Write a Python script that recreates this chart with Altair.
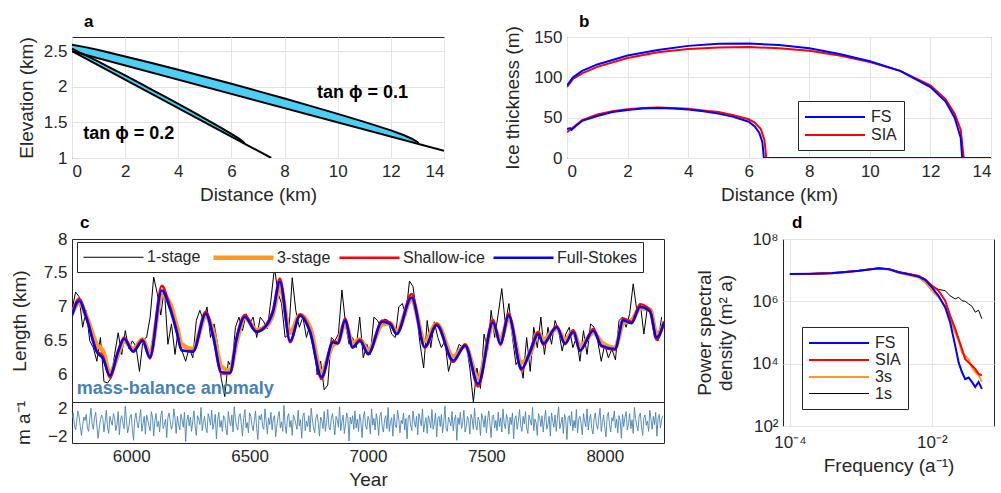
import altair as alt
import pandas as pd

FONT = "Liberation Sans"
INK = "#262626"
CYAN = "#4DCFF5"
ORANGE = "#FF9922"
GRID = "#e3e3e3"

# ---------------- panel a : glacier geometry ----------------
a_x01 = [0, 0.5, 1, 2, 3, 4, 5, 6, 7, 8, 9, 10, 11, 12, 12.5, 12.8, 13.0, 13.05]
a_bed01 = [2.5, 2.45, 2.4, 2.3, 2.2, 2.1, 2.0, 1.9, 1.8, 1.7, 1.6, 1.5, 1.4, 1.3, 1.25, 1.22, 1.2, 1.195]
a_surf01 = [2.59, 2.558, 2.516, 2.427, 2.334, 2.239, 2.142, 2.042, 1.94, 1.836, 1.729, 1.62, 1.508, 1.388, 1.32, 1.27, 1.225, 1.195]
a_x02 = [0, 0.3, 0.5, 1, 1.5, 2, 2.5, 3, 3.5, 4, 4.5, 5, 5.5, 6, 6.3, 6.45, 6.5]
a_bed02 = [2.5, 2.44, 2.4, 2.3, 2.2, 2.1, 2.0, 1.9, 1.8, 1.7, 1.6, 1.5, 1.4, 1.3, 1.24, 1.21, 1.2]
a_surf02 = [2.536, 2.48, 2.446, 2.353, 2.257, 2.16, 2.0615, 1.962, 1.8615, 1.76, 1.657, 1.554, 1.448, 1.34, 1.27, 1.225, 1.2]
a_bedline01_x = [0, 14]
a_bedline01_z = [2.5, 1.1]
a_bedline02_x = [0, 7.5]
a_bedline02_z = [2.5, 1.0]
a_labels = ["tan ϕ = 0.1", "tan ϕ = 0.2"]
a_label_x = [9.22, 0.42]
a_label_z = [1.91, 1.34]

# ---------------- panel b : ice thickness ----------------
b_x_fs_big = [0, 0.2, 0.5, 1, 2, 3, 4, 5, 6, 7, 8, 9, 10, 11, 12, 12.5, 12.8, 13.0, 13.05, 14]
b_h_fs_big = [90, 100, 108, 116, 127, 134, 139, 141.5, 142, 140, 136, 129, 120, 108, 88, 70, 50, 25, 0, 0]
b_x_sia_big = [0, 0.2, 0.5, 1, 2, 3, 4, 5, 6, 7, 8, 9, 10, 11, 12, 12.5, 12.8, 13.0, 13.1, 14]
b_h_sia_big = [88, 98, 105, 113, 124, 131, 135, 137, 137.5, 136, 133, 127, 119, 108, 90, 73, 55, 35, 0, 0]
b_x_fs_small = [0, 0.1, 0.15, 0.3, 0.5, 1, 1.5, 2, 2.5, 3, 3.5, 4, 4.5, 5, 5.5, 6, 6.2, 6.35, 6.45, 6.5, 14]
b_h_fs_small = [36, 37, 35, 40, 46, 52, 57, 59.5, 61.5, 62, 61.5, 60, 58, 55, 51, 45, 39, 31, 20, 0, 0]
b_x_sia_small = [0, 0.3, 0.5, 1, 1.5, 2, 2.5, 3, 3.5, 4, 4.5, 5, 5.5, 6, 6.2, 6.4, 6.52, 6.58, 14]
b_h_sia_small = [32, 41, 47, 54, 58, 60.5, 62, 62.5, 62, 61, 59, 57, 53, 48, 44, 36, 22, 0, 0]

# ---------------- panel c : length series ----------------
c_years_smooth = [5750, 5780, 5812, 5854, 5881, 5910, 5945, 5970, 6008, 6048,
                  6079, 6129, 6164, 6192, 6213, 6261, 6315, 6345, 6381, 6417,
                  6445, 6480, 6529, 6572, 6599, 6628, 6671, 6713, 6755, 6804,
                  6852, 6873, 6903, 6935, 6966, 7001, 7060, 7093, 7121, 7184,
                  7240, 7290, 7360, 7410, 7465, 7528, 7559, 7594, 7648, 7684,
                  7719, 7740, 7797, 7832, 7867, 7895, 7952, 7986, 8043, 8078,
                  8113, 8149, 8191, 8219, 8250]
c_full_stokes = [6.87, 7.09, 6.82, 6.34, 6.24, 5.99, 6.34, 6.53, 6.34, 6.50,
                 6.26, 7.24, 6.97, 6.63, 6.36, 6.34, 6.90, 6.58, 6.04, 6.03,
                 6.53, 6.85, 6.63, 6.73, 6.93, 7.37, 6.50, 6.87, 6.63, 5.97,
                 6.48, 6.46, 6.80, 6.41, 6.50, 6.31, 6.78, 6.75, 6.60, 7.14,
                 6.41, 6.73, 6.21, 6.43, 5.87, 6.77, 6.46, 6.87, 6.09, 6.33,
                 6.60, 6.46, 6.70, 6.46, 6.63, 6.36, 6.65, 6.43, 6.38, 6.80,
                 6.76, 7.00, 6.93, 6.55, 6.77]
c_shallow_ice = [6.90, 7.12, 6.84, 6.36, 6.27, 5.96, 6.36, 6.55, 6.35, 6.52,
                 6.24, 7.31, 7.00, 6.66, 6.36, 6.35, 6.93, 6.60, 6.02, 6.02,
                 6.55, 6.88, 6.64, 6.75, 6.95, 7.42, 6.48, 6.89, 6.65, 5.94,
                 6.50, 6.47, 6.83, 6.40, 6.52, 6.30, 6.80, 6.77, 6.60, 7.19,
                 6.40, 6.75, 6.19, 6.45, 5.83, 6.81, 6.44, 6.90, 6.07, 6.35,
                 6.63, 6.44, 6.72, 6.45, 6.66, 6.35, 6.68, 6.42, 6.37, 6.83,
                 6.78, 7.04, 6.95, 6.52, 6.79]
c_three_stage = [6.90, 7.06, 6.85, 6.45, 6.35, 6.03, 6.30, 6.50, 6.38, 6.52,
                 6.30, 7.18, 7.05, 6.72, 6.45, 6.38, 6.86, 6.65, 6.12, 6.06,
                 6.48, 6.84, 6.66, 6.72, 6.90, 7.30, 6.62, 6.88, 6.70, 6.05,
                 6.44, 6.48, 6.76, 6.47, 6.52, 6.36, 6.74, 6.76, 6.64, 7.10,
                 6.50, 6.75, 6.27, 6.42, 5.95, 6.72, 6.52, 6.83, 6.18, 6.30,
                 6.62, 6.52, 6.68, 6.52, 6.63, 6.42, 6.62, 6.48, 6.40, 6.76,
                 6.80, 6.98, 6.96, 6.60, 6.75]
c_one_stage = [6.95, 7.22, 7.15, 6.70, 6.95, 6.50, 6.40, 6.20, 6.55, 5.90,
               5.88, 5.95, 6.30, 6.62, 6.30, 6.65, 6.38, 6.50, 6.42, 6.05,
               6.52, 6.55, 6.85, 7.44, 7.20, 6.88, 7.27, 6.45, 6.75, 6.30,
               6.70, 6.35, 6.20, 6.40, 6.25, 6.80, 6.95, 6.80, 7.00, 6.55,
               6.75, 6.45, 5.95, 5.68, 6.20, 6.10, 6.70, 6.85, 6.65, 6.90,
               6.75, 6.85, 6.55, 6.85, 6.78, 6.68, 7.10, 7.58, 7.20, 7.05,
               6.55, 6.60, 7.43, 6.95, 6.70, 6.85, 6.55, 6.75, 6.60, 6.00,
               6.20, 5.78, 5.85, 6.55, 6.50, 6.60, 7.25, 6.75, 6.45, 6.55,
               6.40, 6.85, 6.25, 6.45, 6.30, 6.85, 6.80, 6.70, 6.82, 6.80,
               6.60, 6.55, 7.00, 7.05, 6.88, 7.38, 7.30, 6.90, 6.45, 6.10,
               6.80, 6.40, 6.78, 6.55, 6.40, 6.50, 6.05, 6.25, 6.30, 6.45,
               6.40, 6.45, 6.10, 5.60, 6.10, 5.80, 6.60, 6.35, 6.95, 6.55,
               6.90, 7.27, 6.75, 7.05, 6.55, 6.15, 6.25, 5.95, 6.55, 6.05,
               6.70, 6.40, 6.85, 6.30, 6.70, 6.45, 6.80, 6.65, 6.35, 6.60,
               6.70, 6.40, 6.55, 6.20, 6.65, 6.30, 6.75, 6.70, 6.50, 6.20,
               6.45, 6.25, 6.38, 6.22, 6.80, 6.85, 6.70, 6.90, 7.34, 6.95,
               7.05, 6.60, 7.00, 6.90, 6.55, 6.50, 6.85]
c_years_one = list(range(5750, 5750 + 15 * len(c_one_stage), 15))
c_models = ["1-stage", "3-stage", "Shallow-ice", "Full-Stokes"]

c_mass_balance = [
    0.6, 1.4, -0.3, -1.1, 0.2, 1.7, 0.9, -0.6, -1.9, -0.4, 0.8, 0.3, 1.2, -0.8, -1.3, 0.5, 2.1, -0.2, -1.0, 0.7,
    1.5, -0.5, -2.3, -0.9, 0.4, 1.1, 0.6, -1.4, 0.1, 1.8, -0.7, -1.6, 0.9, 0.2, -0.4, 1.3, 0.7, -1.2, -0.3, 1.6,
    -1.8, 0.4, 1.0, -0.1, -0.9, 2.4, 0.3, -1.5, -0.6, 0.8, 1.2, -1.1, -2.6, 0.5, 1.4, 0.0, -0.8, 0.6, 1.9, -1.3,
    -0.2, 0.9, -1.7, 1.1, 0.4, -0.5, -1.2, 1.6, 0.8, -2.0, 0.3, 1.3, -0.6, 0.2, -1.4, 1.0, 1.7, -0.9, -0.3, 0.5,
    -2.2, 0.7, 1.4, 0.1, -1.0, -0.4, 2.0, 0.6, -1.6, 0.9, -0.2, -1.1, 1.2, 0.4, -0.7, 1.5, -2.8, 0.3, 1.1, -0.5,
    0.8, -1.3, 0.2, 1.7, -0.6, -1.9, 1.0, 0.5, -0.3, 2.2, -1.2, 0.1, 0.9, -0.8, -1.5, 1.3, 0.6, -0.4, 1.8, -1.0,
    -0.1, 1.2, -2.4, 0.4, 1.5, -0.7, 0.3, -1.3, 1.0, 0.7, -0.9, -1.8, 1.6, 0.2, -0.5, 1.1, -1.4, 2.3, 0.5, -0.6,
    -1.1, 0.8, 1.3, -0.2, -2.0, 0.6, 1.9, -0.8, 0.0, -1.5, 1.4, 0.9, -0.4, -1.2, 0.3, 1.7, -0.9, -2.5, 1.0, 0.4,
    1.2, -0.6, -1.0, 2.0, 0.2, -1.7, 0.7, -0.3, 1.5, -1.1, 0.5, 1.0, -2.1, -0.5, 0.9, 1.6, -0.8, 0.1, -1.3, 2.5,
    -0.4, -1.6, 0.8, 1.3, -0.7, 0.3, -1.9, 1.1, 0.6, -0.2, -1.0, 1.8, -0.5, 0.4, -2.3, 0.9, 1.4, -1.2, 0.2, -0.6,
    1.0, -1.4, 2.1, 0.5, -0.8, -1.5, 0.7, 1.2, -0.1, -2.0, 0.8, 0.3, -0.9, 1.6, -1.3, 0.0, 1.9, -0.6, -1.1, 0.6,
    1.3, -0.3, -1.8, 0.9, 0.4, -0.7, 2.3, -1.2, 0.2, 1.1, -1.6, -0.4, 1.4, 0.6, -2.7, 0.8, -0.2, 1.0, -1.0, 1.7,
    -0.8, 0.5, -1.3, 1.2, 0.1, -2.2, 0.7, 1.6, -0.5, -1.0, 0.9, 0.3, -1.7, 2.0, -0.4, 0.6, -1.1, 1.3, 0.2, -1.9,
    0.9, 1.5, -0.6, -1.4, 0.4, 1.0, -0.9, 2.2, -1.3, 0.1, 0.7, -2.0, 1.2, -0.3, -0.8, 1.8, 0.5, -1.5, 0.3, -0.2,
    1.4, -1.1, 0.6, -2.4, 0.8, 1.1, -0.4, -1.2, 1.7, 0.2, -0.7, 0.9, -1.8, 1.3, 0.4, -0.5, 2.0, -1.4, -0.1, 0.7,
    -1.6, 1.0, 0.3, -0.8, 1.9, -1.0, -0.2, 1.4, -2.1, 0.6, 0.9, -0.6, 1.2, -1.5, 0.0, 2.4, -0.9, -1.3, 0.8, 0.2,
    -0.5, 1.6, -1.2, 0.4, 1.1, -2.6, 0.7, -0.3, 1.5, -0.9, 0.1, 1.8, -1.4, -0.6, 0.9, 0.3, -1.7, 1.2, 0.5, -1.0,
    2.1, -0.4, -1.1, 0.8, 0.2, -1.9, 1.3, 0.6, -0.7, 1.0, -1.5, 0.4, 1.7, -0.2, -2.2, 0.9, 1.1, -0.8, 0.3, -1.2,
    1.5, -0.6, 0.7, -1.4, 2.0, -0.1, -0.9, 1.2, 0.4, -1.7, 0.8, -0.3, 1.4, -2.4, 0.6, 1.0, -1.0, 0.2, 1.9, -0.5,
    -1.3, 0.9, -0.2, 1.6, -0.8, -1.6, 1.1, 0.3, -0.4, 2.2, -1.2, 0.5, 0.0, -1.9, 1.3, 0.7, -0.6, 1.0, -1.4, 0.4,
    1.8, -1.0, -0.3, 0.9, -2.0, 1.4, 0.2, -0.7, 1.1, -1.3, 0.6, 2.3, -0.9, -0.1, 0.8, -1.6, 1.2, 0.4, -2.5, 0.7,
    1.0, -0.5, 1.6, -1.2, 0.3, -0.8, 1.9, -1.5, 0.5, 0.9, -0.2, -1.8, 1.3, 0.1, -0.6, 2.0, -1.1, 0.4, 1.2, -0.9,
    -1.7, 0.6, 1.4, -0.4, -1.0, 0.8, 2.1, -1.3, 0.0, 1.1, -0.7, -2.1, 0.9, 1.5, -0.3, -1.4, 0.7, 0.2, 1.7, -0.8,
    0.5, -1.5, 1.0, 0.3, -2.3, 1.2, -0.6, 0.8, 1.6, -1.1, -0.2, 1.3, -0.9, 0.4, -1.6, 2.2, 0.6, -0.5, -1.2, 0.9,
    1.4, -0.7, -1.9, 0.7, 1.1, -0.4, 0.2, -1.3, 1.8, 0.5, -1.0, 0.9, -0.3, 1.5, -2.0, 0.6, 1.2, -0.8, 0.4, 1.0]
c_years_mb = list(range(5750, 5750 + 5 * len(c_mass_balance), 5))

# ---------------- panel d : power spectra ----------------
d_freq = [1e-4, 2e-4, 3.9e-4, 6e-4, 9.3e-4, 1.3e-3, 1.78e-3, 2.5e-3, 3.4e-3, 4.8e-3,
          6.5e-3, 8.1e-3, 0.0100, 0.0124, 0.0154, 0.0181, 0.0213, 0.0238, 0.0265, 0.0295,
          0.0329, 0.0366, 0.0408, 0.0455, 0.0506]
d_fs = [7.6e6, 7.7e6, 8.0e6, 8.7e6, 9.5e6, 1.05e7, 1.15e7, 1.07e7, 8.6e6, 7.3e6,
        6.2e6, 4.8e6, 2.8e6, 1.5e6, 6.5e5, 2.1e5, 3.8e4, 1.1e4, 5.4e3, 3.2e3,
        3.6e3, 2.6e3, 1.8e3, 2.6e3, 1.55e3]
d_sia = [7.6e6, 7.7e6, 8.1e6, 8.8e6, 9.6e6, 1.06e7, 1.16e7, 1.08e7, 8.7e6, 7.5e6,
         6.5e6, 5.0e6, 3.2e6, 2.2e6, 1.05e6, 3.5e5, 1.3e5, 6.2e4, 3.0e4, 1.4e4,
         1.1e4, 8.7e3, 6.8e3, 4.7e3, 4.2e3]
d_3s = [7.5e6, 7.6e6, 8.0e6, 8.6e6, 9.4e6, 1.04e7, 1.14e7, 1.05e7, 8.3e6, 6.9e6,
        5.8e6, 4.0e6, 2.2e6, 1.35e6, 6.5e5, 2.75e5, 9.8e4, 5.4e4, 2.3e4, 1.8e4,
        1.4e4, 7.6e3, 5.4e3, 4.2e3, 2.6e3]
d_1s = [7.5e6, 7.6e6, 8.0e6, 8.7e6, 9.5e6, 1.05e7, 1.15e7, 1.08e7, 8.8e6, 7.6e6,
        6.6e6, 5.2e6, 3.2e6, 2.4e6, 2.2e6, 1.5e6, 1.2e6, 1.35e6, 1.05e6, 1.0e6,
        8.3e5, 7.0e5, 4.5e5, 5.2e5, 2.75e5]
d_models = ["FS", "SIA", "3s", "1s"]

# panel letters (placed just above each plot, in that panel's data units)
letter_a = (0.45, 2.84)
letter_b = (0.4, 162.0)
letter_c = (5784, 8.16)
letter_d = (1.07e-4, 2.2e8)

# legend line symbol: 60 px long horizontal stroke, compact row height
LEG_SIZE = 256
LEG_PATH = "M-3.75,0H3.75"


def axis(**kw):
    base = dict(labelFont=FONT, titleFont=FONT, labelFontSize=17, titleFontSize=19,
                labelColor=INK, titleColor=INK, titleFontWeight="normal",
                domain=False, ticks=False, grid=False, gridColor=GRID,
                labelPadding=5, titlePadding=6)
    base.update(kw)
    return alt.Axis(**base)


def legend(**kw):
    base = dict(title=None, orient="none", symbolType=LEG_PATH, symbolSize=LEG_SIZE,
                symbolStrokeWidth=2, symbolOffset=21, labelOffset=27,
                labelFont=FONT, labelFontSize=16, labelColor=INK,
                fillColor="white", strokeColor=INK, padding=7, rowPadding=1)
    base.update(kw)
    return alt.Legend(**base)


def letter(ch, pos, xenc, yenc, xf, yf):
    df = pd.DataFrame({xf: [pos[0]], yf: [pos[1]], "t": [ch]})
    return alt.Chart(df).mark_text(align="left", baseline="alphabetic", font=FONT,
                                   fontSize=17, fontWeight="bold", color="black",
                                   clip=False).encode(x=xenc, y=yenc, text="t:N")


# ----- panel a -----
xa_scale = alt.Scale(domain=[0, 14], nice=False)
ya_scale = alt.Scale(domain=[1, 2.7], nice=False, zero=False)


def xa():
    return alt.X("x:Q", scale=xa_scale,
                 axis=axis(values=list(range(0, 15, 2)), grid=True, title="Distance (km)"))


def ya(field="z"):
    return alt.Y(f"{field}:Q", scale=ya_scale,
                 axis=axis(values=[1, 1.5, 2, 2.5], grid=True, format="~g",
                           title="Elevation (km)", titlePadding=7))


df_a01 = pd.DataFrame({"x": a_x01, "z": a_bed01, "z2": a_surf01})
df_a02 = pd.DataFrame({"x": a_x02, "z": a_bed02, "z2": a_surf02})
df_bed01 = pd.DataFrame({"x": a_bedline01_x, "z": a_bedline01_z})
df_bed02 = pd.DataFrame({"x": a_bedline02_x, "z": a_bedline02_z})
df_alab = pd.DataFrame({"x": a_label_x, "z": a_label_z, "t": a_labels})

pa = alt.layer(
    alt.Chart(df_a01).mark_area(color=CYAN, opacity=1).encode(x=xa(), y=ya(), y2="z2:Q"),
    alt.Chart(df_a02).mark_area(color=CYAN, opacity=1).encode(x=xa(), y=ya(), y2="z2:Q"),
    alt.Chart(df_a01).mark_line(color="black", strokeWidth=2).encode(x=xa(), y=ya("z2")),
    alt.Chart(df_a02).mark_line(color="black", strokeWidth=2).encode(x=xa(), y=ya("z2")),
    alt.Chart(df_bed01).mark_line(color="black", strokeWidth=2, clip=True).encode(x=xa(), y=ya()),
    alt.Chart(df_bed02).mark_line(color="black", strokeWidth=2, clip=True).encode(x=xa(), y=ya()),
    alt.Chart(df_alab).mark_text(align="left", baseline="middle", font=FONT,
                                 fontSize=18, fontWeight="bold", color="black")
    .encode(x=xa(), y=ya(), text="t:N"),
    letter("a", letter_a, xa(), ya(), "x", "z"),
).properties(width=372, height=121)

# ----- panel b -----
rows = []
for name, case, xs, hs in [("SIA", "big", b_x_sia_big, b_h_sia_big),
                           ("SIA", "small", b_x_sia_small, b_h_sia_small),
                           ("FS", "big", b_x_fs_big, b_h_fs_big),
                           ("FS", "small", b_x_fs_small, b_h_fs_small)]:
    for xv, hv in zip(xs, hs):
        rows.append({"x": xv, "H": hv, "model": name, "case": name + case})
df_b = pd.DataFrame(rows)

xb = alt.X("x:Q", scale=alt.Scale(domain=[0, 14], nice=False),
           axis=axis(values=list(range(0, 15, 2)), grid=True, title="Distance (km)"))
yb = alt.Y("H:Q", scale=alt.Scale(domain=[0, 150], nice=False),
           axis=axis(values=[0, 50, 100, 150], grid=True, title="Ice thickness (m)",
                     titlePadding=11))
pb = alt.layer(
    alt.Chart(df_b).mark_line(strokeWidth=2, clip=True).encode(
        x=xb, y=yb,
        color=alt.Color("model:N", scale=alt.Scale(domain=["FS", "SIA"], range=["#0000FF", "#FF0000"]),
                        legend=legend(legendX=231, legendY=64)),
        detail="case:N"),
    letter("b", letter_b, xb, yb, "x", "H"),
).properties(width=424, height=121)

# ----- panel c -----
xc_scale = alt.Scale(domain=[5750, 8250], nice=False)
yc_scale = alt.Scale(domain=[5.6, 8], nice=False, zero=False)
c_color = alt.Scale(domain=c_models, range=["black", ORANGE, "#FF0000", "#0000FF"])
c_width = alt.Scale(type="ordinal", domain=c_models, range=[1, 4.5, 2.5, 2.5])
c_leg = dict(legendX=5, legendY=3, direction="horizontal", columns=4, columnPadding=3,
             padding=5, labelOffset=23)

xc = alt.X("year:Q", scale=xc_scale, axis=None)
yc = alt.Y("L:Q", scale=yc_scale,
           axis=axis(values=[6, 6.5, 7, 7.5, 8], format="~g", title="Length (km)",
                     titlePadding=14))


def c_enc(ch):
    return ch.encode(
        x=xc, y=yc,
        color=alt.Color("model:N", scale=c_color, legend=legend(**c_leg)),
        strokeWidth=alt.StrokeWidth("model:N", scale=c_width, legend=legend(**c_leg)),
    )


df_c1 = pd.DataFrame({"year": c_years_one, "L": c_one_stage, "model": "1-stage"})
df_c3 = pd.DataFrame({"year": c_years_smooth, "L": c_three_stage, "model": "3-stage"})
df_cs = pd.DataFrame({"year": c_years_smooth, "L": c_shallow_ice, "model": "Shallow-ice"})
df_cf = pd.DataFrame({"year": c_years_smooth, "L": c_full_stokes, "model": "Full-Stokes"})
df_ctext = pd.DataFrame({"year": [5770], "L": [5.79], "t": ["mass-balance anomaly"]})

c_top = alt.layer(
    c_enc(alt.Chart(df_c1).mark_line(clip=True)),
    c_enc(alt.Chart(df_c3).mark_line(clip=True, interpolate="monotone")),
    c_enc(alt.Chart(df_cs).mark_line(clip=True, interpolate="monotone")),
    c_enc(alt.Chart(df_cf).mark_line(clip=True, interpolate="monotone")),
    alt.Chart(df_ctext).mark_text(align="left", baseline="middle", font=FONT, fontSize=18,
                                  fontWeight="bold", color="#4682B4")
    .encode(x=xc, y=yc, text="t:N"),
    letter("c", letter_c, xc, yc, "year", "L"),
).properties(width=592, height=163)

df_mb = pd.DataFrame({"year": c_years_mb, "mb": c_mass_balance})
c_bot = alt.Chart(df_mb).mark_line(color="#4682B4", strokeWidth=0.9, clip=True).encode(
    x=alt.X("year:Q", scale=xc_scale,
            axis=axis(values=[6000, 6500, 7000, 7500, 8000], format="d", title="Year")),
    y=alt.Y("mb:Q", scale=alt.Scale(domain=[-3, 3], nice=False),
            axis=axis(values=[-2, 0, 2], format="d", title="m a⁻¹", titlePadding=14)),
).properties(width=592, height=41)

# ----- panel d -----
rows = []
for name, vals in [("1s", d_1s), ("3s", d_3s), ("SIA", d_sia), ("FS", d_fs)]:
    for fv, pv in zip(d_freq, vals):
        rows.append({"f": fv, "P": pv, "model": name})
df_d = pd.DataFrame(rows)

d_leg = dict(legendX=19, legendY=88, rowPadding=0)
xd = alt.X("f:Q", scale=alt.Scale(type="log", domain=[8e-5, 0.075], nice=False),
           axis=axis(values=[1e-4, 1e-2], grid=True, title="Frequency (a⁻¹)",
                     labelExpr="datum.value < 0.001 ? '10⁻⁴' : '10⁻²'", labelPadding=8))
yd = alt.Y("P:Q", scale=alt.Scale(type="log", domain=[1e2, 1e8], nice=False),
           axis=axis(values=[1e2, 1e4, 1e6, 1e8], grid=True,
                     title=["Power spectral", "density (m² a)"], titlePadding=16,
                     labelExpr="datum.value < 1e3 ? '10²' : datum.value < 1e5 ? '10⁴' : datum.value < 1e7 ? '10⁶' : '10⁸'"))
pdd = alt.layer(
    alt.Chart(df_d).mark_line(clip=True).encode(
        x=xd, y=yd,
        color=alt.Color("model:N", scale=alt.Scale(domain=d_models, range=["#0000FF", "#FF0000", ORANGE, "black"]),
                        legend=legend(**d_leg)),
        strokeWidth=alt.StrokeWidth("model:N", scale=alt.Scale(type="ordinal", domain=d_models, range=[2, 2, 2, 1]),
                                    legend=legend(**d_leg))),
    letter("d", letter_d, xd, yd, "f", "P"),
).properties(width=211, height=187)

row1 = alt.hconcat(pa, pb, spacing=123, bounds="flush").resolve_scale(
    color="independent", strokeWidth="independent")
c_stack = alt.vconcat(c_top, c_bot, spacing=0, bounds="flush")
row2 = alt.hconcat(c_stack, pdd, spacing=30).resolve_scale(
    color="independent", strokeWidth="independent")

chart = alt.vconcat(row1, row2, spacing=8).resolve_scale(
    color="independent", strokeWidth="independent"
).properties(
    padding={"left": 9, "top": 12, "right": 0, "bottom": 2},
    background="white",
).configure_view(stroke=INK, strokeWidth=1)

chart.save("out.html", embed_options={"renderer": "svg", "actions": False})
